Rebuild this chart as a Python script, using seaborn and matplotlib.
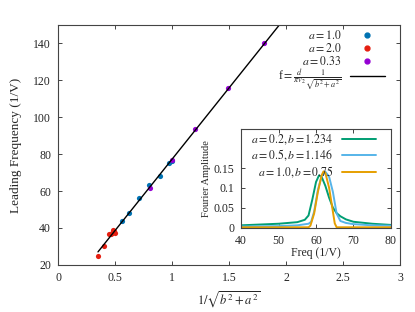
import seaborn as sns
import matplotlib.pyplot as plt
import pandas as pd

# leading frequency vs 1/sqrt(b^2+a^2)
x_a1 = [0.559, 0.626, 0.71, 0.80, 0.895, 0.971, 0.997]
y_a1 = [43.9, 47.9, 56.2, 63.3, 68.0, 75.3, 76.3]
x_a2 = [0.354, 0.40, 0.447, 0.46, 0.472, 0.48, 0.49, 0.50]
y_a2 = [25.0, 30.5, 36.5, 37.0, 37.3, 39.0, 38.3, 37.5]
x_a033 = [0.807, 1.0, 1.204, 1.494, 1.81]
y_a033 = [61.7, 76.7, 93.5, 116.0, 140.0]
x_fit = [0.35, 1.95]
y_fit = [27.05, 150.7]

# inset spectra
green_f = [40, 45, 50, 55, 57, 58, 59, 60, 60.8, 61.5, 62.5, 63.5, 64.5, 65.5, 66.5, 68, 70, 75, 80]
green_a = [0.005, 0.007, 0.009, 0.013, 0.019, 0.03, 0.07, 0.115, 0.132, 0.128, 0.105, 0.075, 0.05, 0.036, 0.028, 0.02, 0.014, 0.009, 0.006]
blue_f = [40, 50, 55, 58, 58.7, 59.5, 60.5, 61.5, 62.5, 63.5, 64.5, 65.5, 66.5, 68, 70, 75, 80]
blue_a = [0.002, 0.003, 0.005, 0.009, 0.014, 0.04, 0.095, 0.13, 0.141, 0.128, 0.09, 0.035, 0.016, 0.011, 0.008, 0.005, 0.004]
orange_f = [40, 58, 58.5, 59.5, 60.5, 61.5, 62, 62.5, 63.5, 64.5, 65, 65.5, 80]
orange_a = [0, 0, 0.004, 0.035, 0.09, 0.132, 0.142, 0.138, 0.1, 0.04, 0.01, 0, 0]

sns.set_style("ticks")
plt.rcParams['font.family'] = ['Liberation Serif', 'DejaVu Serif']
plt.rcParams['mathtext.fontset'] = 'stix'
plt.rcParams['font.size'] = 8.5
plt.rcParams['xtick.direction'] = 'in'
plt.rcParams['ytick.direction'] = 'in'
plt.rcParams['axes.edgecolor'] = '#444444'
plt.rcParams['axes.linewidth'] = 0.8

fig = plt.figure(figsize=(4.15, 3.12), dpi=100)
ax = fig.add_axes([0.140, 0.151, 0.824, 0.769])

series = [
    (x_a1, y_a1, '#0072b2', r'$a=1.0$'),
    (x_a2, y_a2, '#e51e10', r'$a=2.0$'),
    (x_a033, y_a033, '#9400d3', r'$a=0.33$'),
]
handles = []
for xs, ys, c, lab in series:
    sns.scatterplot(x=xs, y=ys, color=c, s=14, linewidth=0, ax=ax, legend=False)
    handles.append(plt.Line2D([], [], marker='o', ls='', color=c, markersize=3.5, label=lab))

sns.lineplot(x=x_fit, y=y_fit, color='black', lw=1, ax=ax, legend=False)
handles.append(plt.Line2D([], [], color='black', lw=1,
                          label=r'f$=\frac{d}{\pi v_2}\frac{1}{\sqrt{b^2+a^2}}$'))

ax.set_xlim(0, 3)
ax.set_ylim(20, 150)
ax.set_xticks([0, 0.5, 1, 1.5, 2, 2.5, 3])
ax.set_xticklabels(['0', '0.5', '1', '1.5', '2', '2.5', '3'])
ax.set_yticks(range(20, 141, 20))
ax.tick_params(top=True, right=True, labelsize=8.5, length=3, width=0.6, pad=5)
ax.set_xlabel(r'$1/\sqrt{b^2+a^2}$', fontsize=9)
ax.set_ylabel('Leading Frequency (1/V)', fontsize=9.5, labelpad=8)
ax.legend(handles=handles, loc='upper right', frameon=False, markerfirst=False,
          fontsize=8.5, handlelength=3.0, handletextpad=0.7, labelspacing=0.0,
          borderpad=0, borderaxespad=0,
          bbox_to_anchor=(385 / 415, 1 - 29 / 312), bbox_transform=fig.transFigure)

# inset
ins = fig.add_axes([0.581, 0.269, 0.361, 0.318])
spectra = pd.DataFrame({
    'f': green_f + blue_f + orange_f,
    'amp': green_a + blue_a + orange_a,
    'case': ([r'$a=0.2, b=1.234$'] * len(green_f) + [r'$a=0.5, b=1.146$'] * len(blue_f)
             + [r'$a=1.0, b=0.75$'] * len(orange_f)),
})
sns.lineplot(data=spectra, x='f', y='amp', hue='case', sort=False,
             palette=['#009e73', '#56b4e9', '#e69f00'], lw=1.4, ax=ins)
ins.set_xlim(40, 80)
ins.set_ylim(-0.002, 0.25)
ins.set_xticks([40, 50, 60, 70, 80])
ins.set_yticks([0, 0.05, 0.1, 0.15])
ins.set_yticklabels(['0', '0.05', '0.1', '0.15'])
ins.tick_params(top=True, right=True, labelsize=8.5, length=3, width=0.6, pad=5)
ins.set_xlabel('Freq (1/V)', fontsize=8.5, labelpad=0)
ins.set_ylabel('Fourier Amplitude', fontsize=7.5, labelpad=2)
ins.legend(loc='upper right', frameon=False, markerfirst=False, fontsize=8.5,
           handlelength=2.9, handletextpad=0.7, labelspacing=0.1,
           borderpad=0, borderaxespad=0,
           bbox_to_anchor=(376 / 415, 1 - 132 / 312), bbox_transform=fig.transFigure)

fig.savefig('out.png', dpi=100)
